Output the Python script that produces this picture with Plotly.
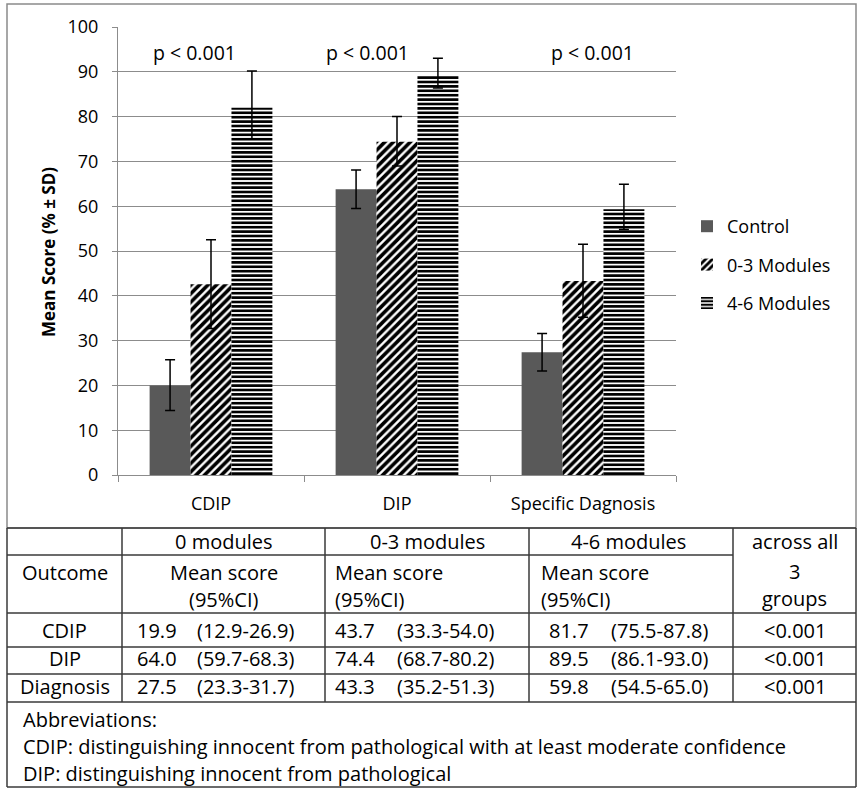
import plotly.graph_objects as go

# ---------------- data ----------------
categories = ["CDIP", "DIP", "Specific Dagnosis"]
series_names = ["Control", "0-3 Modules", "4-6 Modules"]

control_mean = [20.0, 63.8, 27.4]
control_hi = [25.7, 68.1, 31.6]
control_lo = [14.4, 59.5, 23.2]

mod03_mean = [42.6, 74.4, 43.3]
mod03_hi = [52.5, 80.0, 51.5]
mod03_lo = [32.7, 69.0, 35.2]

mod46_mean = [82.0, 89.3, 59.3]
mod46_hi = [90.2, 93.0, 64.9]
mod46_lo = [75.0, 86.4, 54.8]

p_labels = ["p < 0.001", "p < 0.001", "p < 0.001"]

# table data
table_head_groups = ["0 modules", "0-3 modules", "4-6 modules"]
table_outcomes = ["CDIP", "DIP", "Diagnosis"]
mean_0 = ["19.9", "64.0", "27.5"]
ci_0 = ["(12.9-26.9)", "(59.7-68.3)", "(23.3-31.7)"]
mean_03 = ["43.7", "74.4", "43.3"]
ci_03 = ["(33.3-54.0)", "(68.7-80.2)", "(35.2-51.3)"]
mean_46 = ["81.7", "89.5", "59.8"]
ci_46 = ["(75.5-87.8)", "(86.1-93.0)", "(54.5-65.0)"]
p_all = ["<0.001", "<0.001", "<0.001"]
footnotes = [
    "Abbreviations:",
    "CDIP: distinguishing innocent from pathological with at least moderate confidence",
    "DIP: distinguishing innocent from pathological",
]

# ---------------- layout geometry ----------------
W, H = 864, 792
PL, PR, PT, PB = 118, 676, 27, 475  # plot area in pixels
FONT = "Open Sans"
GRID = "#8c8c8c"


def px(x):
    return (x - PL) / (PR - PL)


def py(y):
    return (PB - y) / (PB - PT)


def err(mean, hi, lo):
    return dict(type="data", symmetric=False,
                array=[h - m for h, m in zip(hi, mean)],
                arrayminus=[m - l for m, l in zip(mean, lo)],
                color="black", thickness=1.5, width=5)


fig = go.Figure()
fig.add_trace(go.Bar(
    x=categories, y=control_mean, name=series_names[0], legendgroup="a",
    marker=dict(color="#595959", line=dict(width=0)),
    error_y=err(control_mean, control_hi, control_lo)))
fig.add_trace(go.Bar(
    x=categories, y=mod03_mean, name=series_names[1], legendgroup="b",
    marker=dict(color="white", line=dict(width=0),
                pattern=dict(shape="/", fgcolor="#000000", bgcolor="#ffffff",
                             fgopacity=1, size=6, solidity=0.6)),
    error_y=err(mod03_mean, mod03_hi, mod03_lo)))
fig.add_trace(go.Bar(
    x=categories, y=mod46_mean, name=series_names[2], legendgroup="c",
    marker=dict(color="white", line=dict(width=0),
                pattern=dict(shape="-", fgcolor="#000000", bgcolor="#ffffff",
                             fgopacity=1, size=4.4, solidity=0.6)),
    error_y=err(mod46_mean, mod46_hi, mod46_lo)))

annotations = []
# p-value labels (data coords on category axis)
p_x = [-0.09, 0.84, 2.05]
for xv, t in zip(p_x, p_labels):
    annotations.append(dict(x=xv, y=94.2, xref="x", yref="y", text=t,
                            showarrow=False, font=dict(size=19.5, color="black"),
                            xanchor="center", yanchor="middle"))

# y-axis title
annotations.append(dict(x=px(49), y=py(252), xref="paper", yref="paper",
                        text="<b>Mean Score (% ± SD)</b>", textangle=-90,
                        showarrow=False, font=dict(size=17, color="black"),
                        xanchor="center", yanchor="middle"))

TFS = 20


def tann(x, y, text, anchor="center"):
    annotations.append(dict(x=px(x), y=py(y), xref="paper", yref="paper",
                            text=text, showarrow=False,
                            font=dict(size=TFS, color="black"),
                            xanchor=anchor, yanchor="middle"))


# table columns
cx = [7, 122, 325, 529, 733, 856]
# header row 1
tann((cx[1] + cx[2]) / 2, 541.5, table_head_groups[0])
tann((cx[2] + cx[3]) / 2, 541.5, table_head_groups[1])
tann((cx[3] + cx[4]) / 2 - 3, 541.5, table_head_groups[2])
tann((cx[4] + cx[5]) / 2, 541.5, "across all")
# header row 2
tann((cx[0] + cx[1]) / 2, 572.5, "Outcome")
tann((cx[1] + cx[2]) / 2, 572.5, "Mean score")
tann((cx[1] + cx[2]) / 2, 599.5, "(95%CI)")
tann(333, 572.5, "Mean score", "left")
tann(333, 599.5, "(95%CI)", "left")
tann(539, 572.5, "Mean score", "left")
tann(539, 599.5, "(95%CI)", "left")
tann((cx[4] + cx[5]) / 2, 571, "3")
tann((cx[4] + cx[5]) / 2, 598, "groups")

row_y = [630, 658, 686]
for i, yv in enumerate(row_y):
    tann((cx[0] + cx[1]) / 2, yv, table_outcomes[i])
    tann(135, yv, mean_0[i], "left")
    tann(195, yv, ci_0[i], "left")
    tann(333, yv, mean_03[i], "left")
    tann(395, yv, ci_03[i], "left")
    tann(547, yv, mean_46[i], "left")
    tann(609, yv, ci_46[i], "left")
    tann((cx[4] + cx[5]) / 2, yv, p_all[i])

for yv, t in zip([719, 746.5, 773], footnotes):
    tann(21, yv, t, "left")

# shapes
shapes = []


def line(x0, y0, x1, y1, color="#3a3a3a", w=1.5):
    shapes.append(dict(type="line", xref="paper", yref="paper",
                       x0=px(x0), y0=py(y0), x1=px(x1), y1=py(y1),
                       line=dict(color=color, width=w), layer="above"))


# chart frame
shapes.append(dict(type="rect", xref="paper", yref="paper",
                   x0=px(7), y0=py(4), x1=px(856), y1=py(528),
                   line=dict(color="#8a8a8a", width=1.5), layer="below"))
# table grid
for xv in cx:
    line(xv, 528, xv, 702)
line(7, 528, 856, 528)
line(7, 555, 733, 555)
for yv in [613, 647, 674, 702]:
    line(7, yv, 856, yv)
# footer box
line(7, 702, 7, 787)
line(856, 702, 856, 787)
line(7, 787, 856, 787)

fig.update_layout(
    width=W, height=H,
    margin=dict(l=PL, r=W - PR, t=PT, b=H - PB),
    paper_bgcolor="white", plot_bgcolor="white",
    font=dict(family=FONT, color="black"),
    barmode="group", bargap=0.34, bargroupgap=0,
    showlegend=True,
    legend=dict(x=px(687), y=py(208), xanchor="left", yanchor="top",
                font=dict(size=18, color="black"), tracegroupgap=12,
                itemwidth=30, bgcolor="rgba(0,0,0,0)"),
    annotations=annotations, shapes=shapes,
)
fig.update_xaxes(type="category", showline=True, linecolor=GRID, linewidth=1,
                 ticks="outside", tickson="boundaries", ticklen=6, tickcolor=GRID,
                 showgrid=False, tickfont=dict(size=18, color="black"),
                 ticklabelstandoff=12)
fig.update_yaxes(range=[0, 100], dtick=10, showline=True, linecolor=GRID,
                 linewidth=1, ticks="outside", ticklen=5, tickcolor=GRID,
                 showgrid=True, gridcolor=GRID, gridwidth=1, zeroline=False,
                 tickfont=dict(size=18, color="black"), ticklabelstandoff=10)

fig.write_html("out.html", config={"displayModeBar": False},
               post_script="document.body.style.margin='0px';"
                           "document.body.style.overflow='hidden';")
